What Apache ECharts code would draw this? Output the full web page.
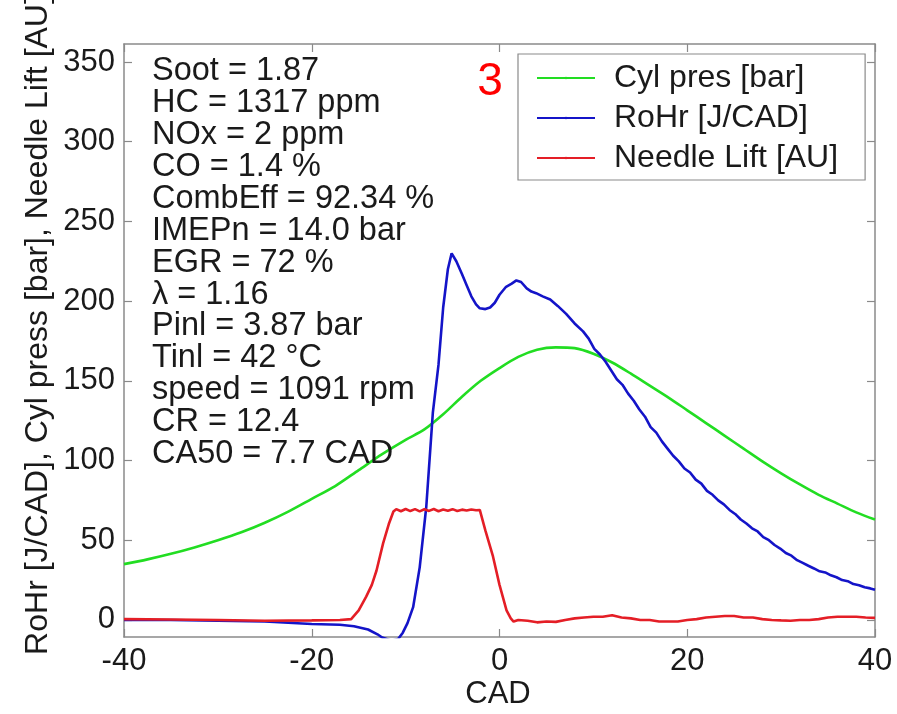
<!DOCTYPE html>
<html>
<head>
<meta charset="utf-8">
<script src="https://cdn.jsdelivr.net/npm/echarts@6/dist/echarts.min.js"></script>
<style>
html,body{margin:0;padding:0;background:#fff;}
#chart{width:897px;height:714px;}
</style>
</head>
<body>
<div id="chart"></div>
<script>
// ---- data ----
const seriesNames = ['Cyl pres [bar]', 'RoHr [J/CAD]', 'Needle Lift [AU]'];
const xTicks = [-40, -20, 0, 20, 40];
const yTicks = [0, 50, 100, 150, 200, 250, 300, 350];

const presCad = [-40,-37.5,-35,-32.5,-30,-27.5,-25,-22.5,-20,-17.5,-15,-12.5,-10,-8,-6,-4,-2,0,2,4,6,8,10,12,14,16,18,20,22,24,26,28,30,32,34,36,38,40];
const presVal = [35,38,41.5,45.5,50,55,61,68,76,84,94,104,113,119.5,129,140,150,158,165,169.5,171,170.5,167,161.5,154.5,147,139.5,131.5,123.5,115.5,107.5,99.5,92,85,78.5,73,67.5,63];

const rohrCad = [-40,-35,-30,-25,-20,-17,-15.5,-14,-13,-12.5,-11.5,-10.8,-10.3,-9.8,-9.2,-8.5,-7.8,-7.1,-6.5,-6.0,-5.5,-5.1,-4.6,-4,-3.5,-3,-2.5,-2.1,-1.5,-1,-0.5,0,0.7,1.3,1.8,2.3,2.9,3.4,3.9,4.6,5.4,6.2,7.1,8,8.9,9.5,10.1,10.7,11.3,11.9,12.5,13.1,13.7,14.3,14.9,15.5,16.1,16.7,17.3,17.9,18.5,19.1,19.7,20.3,20.9,21.5,22.1,22.7,23.3,23.9,24.5,25.1,25.7,26.3,26.9,27.5,28.1,28.7,29.3,29.9,30.5,31.1,31.7,32.3,32.9,33.5,34.1,34.7,35.3,35.9,36.5,37.1,37.7,38.3,38.9,39.5,40];
const rohrVal = [0,0,-0.5,-1,-2.5,-3,-4,-6,-9,-11,-13,-12,-8,-2,8,33,71,130,160,196,220,230,225,217,210,203,198,195.5,195,196,199,204,209,211,213,212,208,206,205,203,201,197,192,186,181,176.5,170,166.5,162,156.5,151,147.5,142,137.5,132,127.5,121,117.5,112,107.5,103,99.5,95,92.5,88,85.5,81,78.5,75,72.5,69,66.5,63,60.5,57.5,55.5,52,50,47,44.8,42,40.3,37.5,35.8,34,32.3,30.5,29.8,28,26.8,25,24.3,22.5,21.8,20.5,19.8,19];

const liftCad = [-40,-35,-30,-25,-20,-17,-15.8,-15,-14.2,-13.6,-13.1,-12.4,-11.8,-11.3,-11,-10.5,-10,-9.5,-9,-8.5,-8,-7.5,-7,-6.5,-6,-5.5,-5,-4.5,-4,-3.5,-3,-2.5,-2.1,-1.5,-0.7,0,0.75,1.2,1.5,2,3,4,5,6,7,8,9,10,11,12,13,14,15,16,17,18,19,20,21,22,23,24,25,26,27,28,29,30,31,32,33,34,35,36,37,38,39,40];
const liftVal = [0.5,0.3,0,-0.5,-0.3,0,0.5,6,14.6,22,31,48,60,68,69.5,68.2,69.6,68.3,69.5,68.1,69.4,68.4,69.6,68.2,69.3,68.5,69.5,68.4,69.2,68.6,69.3,68.8,69,56,40,22,6,1,-1,0,-0.5,-1.5,-1,-1.2,0,1,1.5,2,2,3,1.5,1,0,0,-1,-1,-1,0,0.5,1.5,2,2.5,2.5,1.5,1.5,0.5,0,-0.3,-0.5,0,0,0.5,1.5,2,2,2,1.5,1.3];

const statsLines = ['Soot = 1.87','HC = 1317 ppm','NOx = 2 ppm','CO = 1.4 %','CombEff = 92.34 %','IMEPn = 14.0 bar','EGR = 72 %','\u03bb = 1.16','Pinl = 3.87 bar','Tinl = 42 \u00b0C','speed = 1091 rpm','CR = 12.4','CA50 = 7.7 CAD'];
const panelLabel = '3';
const xTitle = 'CAD';
const yTitle = 'RoHr [J/CAD], Cyl press [bar], Needle Lift [AU]';

// ---- build ----
const zip = (a, b) => a.map((x, i) => [x, b[i]]);
const FONT = '"Liberation Sans", Arial, sans-serif';
const AXC = '#8a8a8a';
const TXT = '#1a1a1a';

const chart = echarts.init(document.getElementById('chart'), null, {renderer: 'canvas'});

const axisLineStyle = {show: true, onZero: false, lineStyle: {color: AXC, width: 1.5}};
const tickStyle = {color: AXC, width: 1.2};

const graphics = statsLines.map((t, i) => ({
  type: 'text', x: 152, y: 71 + 31.94 * i,
  style: {text: t, font: '32.5px ' + FONT, fill: TXT, verticalAlign: 'middle', align: 'left'},
  z: 10
}));
graphics.push({type: 'text', x: 490, y: 82, style: {text: panelLabel, font: '46px ' + FONT, fill: '#ff0000', align: 'center', verticalAlign: 'middle'}, z: 10});
graphics.push({type: 'text', x: 38, y: 325, rotation: Math.PI / 2, style: {text: yTitle, font: '32px ' + FONT, fill: TXT, align: 'center', verticalAlign: 'middle'}, z: 10});
graphics.push({type: 'text', x: 498, y: 694, style: {text: xTitle, font: '31px ' + FONT, fill: TXT, align: 'center', verticalAlign: 'middle'}, z: 10});

const option = {
  backgroundColor: '#ffffff',
  animation: false,
  grid: {left: 124, top: 44, right: 22, bottom: 77, containLabel: false},
  xAxis: [
    {type: 'value', min: -40, max: 40, interval: 20, position: 'bottom',
      axisLine: axisLineStyle, splitLine: {show: false},
      axisTick: {show: true, inside: true, length: 8, lineStyle: tickStyle},
      axisLabel: {show: true, fontSize: 31, fontFamily: FONT, color: TXT, margin: 9}},
    {type: 'value', min: -40, max: 40, interval: 20, position: 'top',
      axisLine: axisLineStyle, splitLine: {show: false},
      axisTick: {show: true, inside: true, length: 8, lineStyle: tickStyle},
      axisLabel: {show: false}}
  ],
  yAxis: [
    {type: 'value', min: -10.7, max: 361.3, position: 'left',
      axisLine: axisLineStyle, splitLine: {show: false},
      axisTick: {show: true, inside: true, length: 8, customValues: yTicks, lineStyle: tickStyle},
      axisLabel: {show: true, fontSize: 31, fontFamily: FONT, color: TXT, margin: 9, customValues: yTicks}},
    {type: 'value', min: -10.7, max: 361.3, position: 'right',
      axisLine: axisLineStyle, splitLine: {show: false},
      axisTick: {show: true, inside: true, length: 8, customValues: yTicks, lineStyle: tickStyle},
      axisLabel: {show: false}}
  ],
  legend: {
    show: true, orient: 'vertical', left: 518, top: 54,
    data: seriesNames,
    itemWidth: 58, itemHeight: 3, itemGap: 8,
    padding: [8, 27, 6, 18],
    backgroundColor: '#ffffff', borderColor: '#8a8a8a', borderWidth: 1.2, borderRadius: 0,
    textStyle: {fontSize: 32, fontFamily: FONT, color: TXT, lineHeight: 30, padding: [0, 0, 0, 14]}
  },
  graphic: graphics,
  series: [
    {name: seriesNames[0], type: 'line', data: zip(presCad, presVal), smooth: 0.3, symbol: 'none', xAxisIndex: 0, yAxisIndex: 0,
      lineStyle: {color: '#22dd22', width: 2.6}, itemStyle: {color: '#22dd22'}, z: 3},
    {name: seriesNames[1], type: 'line', data: zip(rohrCad, rohrVal), smooth: false, symbol: 'none', xAxisIndex: 0, yAxisIndex: 0,
      lineStyle: {color: '#1414c8', width: 2.6}, itemStyle: {color: '#1414c8'}, z: 4},
    {name: seriesNames[2], type: 'line', data: zip(liftCad, liftVal), smooth: false, symbol: 'none', xAxisIndex: 0, yAxisIndex: 0,
      lineStyle: {color: '#e41e26', width: 2.6}, itemStyle: {color: '#e41e26'}, z: 5}
  ]
};
chart.setOption(option);
</script>
</body>
</html>
